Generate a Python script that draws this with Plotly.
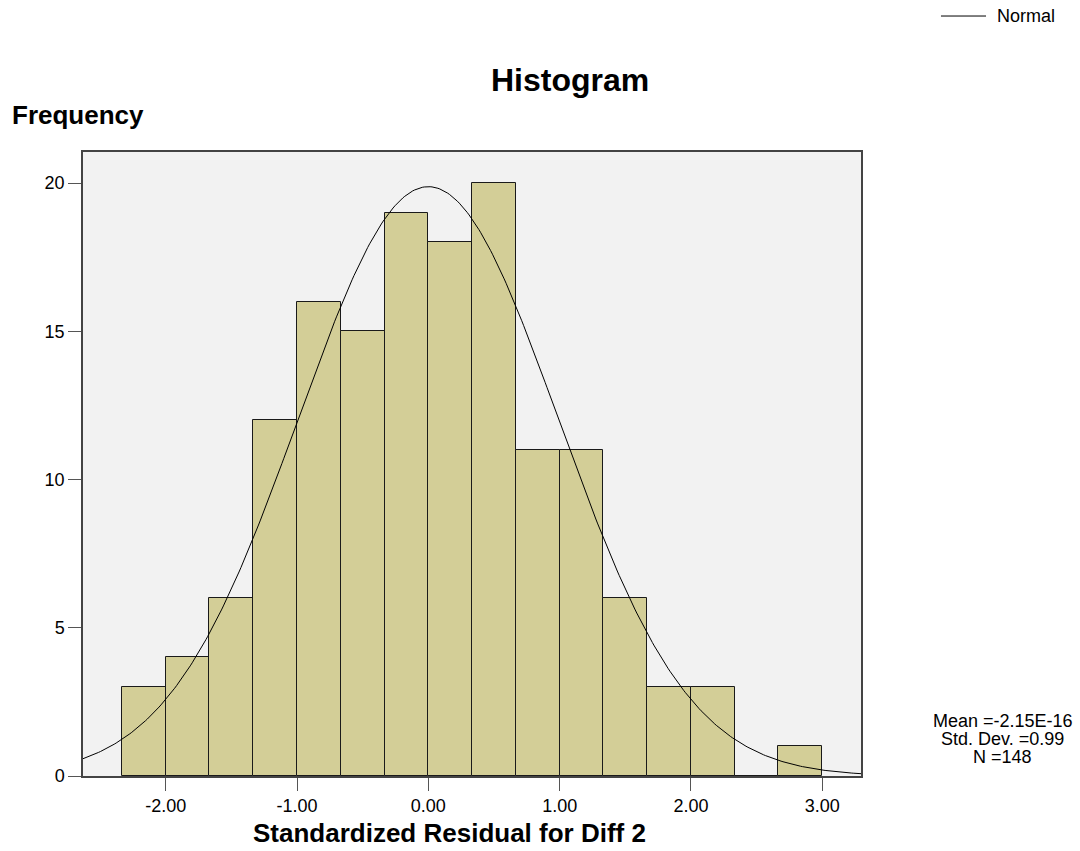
import numpy as np
import plotly.graph_objects as go

# Histogram bins (edges) and counts
bin_edges = [-7/3, -2, -5/3, -4/3, -1, -2/3, -1/3, 0, 1/3, 2/3, 1, 4/3, 5/3, 2, 7/3, 8/3, 3]
counts = [3, 4, 6, 12, 16, 15, 19, 18, 20, 11, 11, 6, 3, 3, 0, 1]

# Summary statistics shown on the chart
mean_val = -2.15e-16
std_val = 0.99
n_val = 148
stats_lines = ["Mean =-2.15E-16", "Std. Dev. =0.99", "N =148"]

x_ticks = [-2, -1, 0, 1, 2, 3]
x_tick_labels = ["-2.00", "-1.00", "0.00", "1.00", "2.00", "3.00"]
y_ticks = [0, 5, 10, 15, 20]

x_range = [-2.63, 3.295]
y_range = [0, 21.05]

centers = [(bin_edges[i] + bin_edges[i + 1]) / 2 for i in range(len(counts))]
widths = [bin_edges[i + 1] - bin_edges[i] for i in range(len(counts))]
bw = widths[0]

# Fitted normal curve (defined by the stated mean, std. dev. and N)
xc = np.linspace(x_range[0], x_range[1], 400)
yc = n_val * bw * np.exp(-0.5 * ((xc - mean_val) / std_val) ** 2) / (std_val * np.sqrt(2 * np.pi))

FONT = "Arial, Liberation Sans, sans-serif"

fig = go.Figure()
fig.add_trace(go.Bar(
    x=centers, y=counts, width=widths,
    marker=dict(color="#d3ce97", line=dict(color="#1a1a1a", width=1)),
    showlegend=False, hoverinfo="skip",
))
fig.add_trace(go.Scatter(
    x=xc, y=yc, mode="lines", name="Normal",
    line=dict(color="black", width=1), showlegend=False,
))

annotations = [
    dict(text="<b>Histogram</b>", xref="paper", yref="paper", x=0.626, y=1.1154,
         xanchor="center", yanchor="middle", showarrow=False, font=dict(size=32)),
    dict(text="<b>Frequency</b>", xref="paper", yref="paper", x=-0.0938, y=1.0593,
         xanchor="left", yanchor="middle", showarrow=False, font=dict(size=26)),
    dict(text="<b>Standardized Residual for Diff 2</b>", xref="paper", yref="paper",
         x=0.4717, y=-0.0913, xanchor="center", yanchor="middle", showarrow=False,
         font=dict(size=26)),
    dict(text="Normal", xref="paper", yref="paper", x=1.1722, y=1.2179,
         xanchor="left", yanchor="middle", showarrow=False, font=dict(size=18)),
]
for i, (line, yp) in enumerate(zip(stats_lines, [0.0881, 0.0593, 0.0304])):
    annotations.append(dict(text=line, xref="paper", yref="paper", x=1.1825, y=yp,
                            xanchor="center", yanchor="middle", showarrow=False,
                            font=dict(size=18)))

fig.update_layout(
    width=1080, height=851,
    margin=dict(l=83, r=219, t=152, b=75),
    paper_bgcolor="white", plot_bgcolor="#f2f2f2",
    font=dict(family=FONT, size=18, color="black"),
    bargap=0,
    xaxis=dict(range=x_range, tickvals=x_ticks, ticktext=x_tick_labels,
               showgrid=False, zeroline=False, ticks="outside", ticklen=13,
               tickcolor="#555", showline=True, linecolor="#444", linewidth=1.5, mirror=True,
               tickfont=dict(size=18)),
    yaxis=dict(range=y_range, tickvals=y_ticks, showgrid=False, zeroline=False,
               ticks="outside", ticklen=13, tickcolor="#555", showline=True,
               linecolor="#444", linewidth=1.5, mirror=True, tickfont=dict(size=18)),
    annotations=annotations,
    shapes=[dict(type="line", xref="paper", yref="paper", x0=1.1028, x1=1.1607,
                 y0=1.2179, y1=1.2179, line=dict(color="black", width=1))],
)

fig.write_html("out.html")
